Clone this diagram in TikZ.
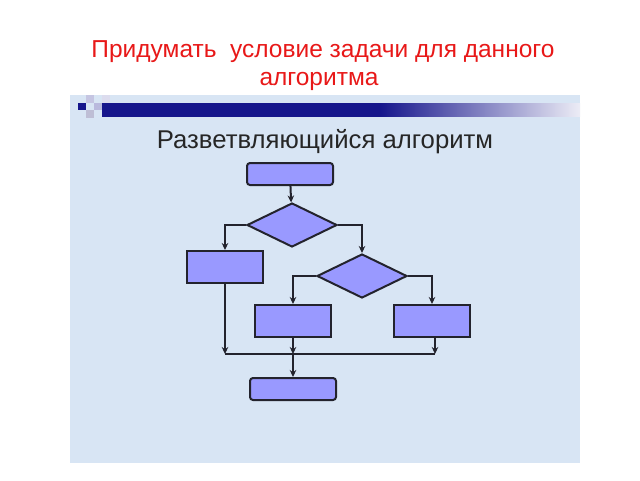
\documentclass[tikz,border=0pt]{standalone}
\usepackage{fontspec}
\setmainfont{Liberation Sans}
\usetikzlibrary{arrows.meta,positioning,shapes.geometric}
\definecolor{pPanel}{RGB}{216,229,244}
\definecolor{pBox}{RGB}{153,153,255}
\definecolor{pLine}{RGB}{35,35,45}
\definecolor{pNavy}{RGB}{22,22,140}
\definecolor{pRed}{RGB}{232,24,24}
\tikzset{
    blk/.style={rectangle, draw=pLine, line width=2pt, fill=pBox, minimum width=76pt, minimum height=32pt, inner sep=0pt},
    term/.style={blk, rounded corners=3pt, minimum width=86pt, minimum height=22pt},
    cond/.style={diamond, draw=pLine, line width=2pt, fill=pBox, minimum width=90pt, minimum height=44pt, inner sep=0pt},
    arr/.style={draw=pLine, line width=2pt, -{Stealth[length=7pt,width=6.5pt]}},
    lin/.style={draw=pLine, line width=2pt}
}
\begin{document}
\begin{tikzpicture}[x=1pt,y=-1pt]
\useasboundingbox (0,0) rectangle (640,480);
\fill[white] (0,0) rectangle (640,480);
% panel
\fill[pPanel] (70,95) rectangle (580,463);
\fill[white] (102,103) rectangle (580,116);
\shade[left color=pNavy, right color=pNavy] (102,103) rectangle (380,116);
\shade[left color=pNavy, right color=white!92!pNavy] (380,103) rectangle (580,116);
\fill[pNavy] (78,103) rectangle (86,110);
\fill[pNavy!25] (86,95) rectangle (94,103);
\fill[pNavy!30] (94,103) rectangle (102,110);
\fill[gray!45!pNavy!35] (86,110) rectangle (94,118);
\fill[pNavy!15] (102,95) rectangle (110,103);
% titles
\node[pRed, anchor=base, font=\fontsize{24.5}{29}\selectfont] (title1) at (323,57) {Придумать\ \ условие задачи для данного};
\node[pRed, anchor=base, font=\fontsize{24.5}{29}\selectfont] (title2) at (319,85) {алгоритма};
\node[black!85, anchor=base, font=\fontsize{25.7}{30}\selectfont] (head) at (325,148) {Разветвляющийся алгоритм};
% flowchart
\node[term] (start) at (290,174) {};
\node[cond] (d1) at (292,225) {};
\node[blk] (b1) at (225,267) {};
\node[cond] (d2) at (362,276) {};
\node[blk] (b2) at (293,321) {};
\node[blk] (b3) at (432,321) {};
\node[term] (stop) at (293,389) {};
\coordinate (mL) at (225,354);
\coordinate (mR) at (435,354);
\coordinate (mM) at (293,354);
\draw[arr] (start) -- (d1);
\draw[arr] (d1.west) -| (b1.north);
\draw[arr] (d1.east) -| (d2.north);
\draw[arr] (d2.west) -| (b2.north);
\draw[arr] (d2.east) -| (b3.north);
\draw[arr] (b1) -- (mL);
\draw[arr] (b2) -- (mM);
\draw[arr] (b3.south -| mR) -- (mR);
\draw[lin] (mL) -- (mR);
\draw[arr] (mM) -- (stop);
\end{tikzpicture}
\end{document}
